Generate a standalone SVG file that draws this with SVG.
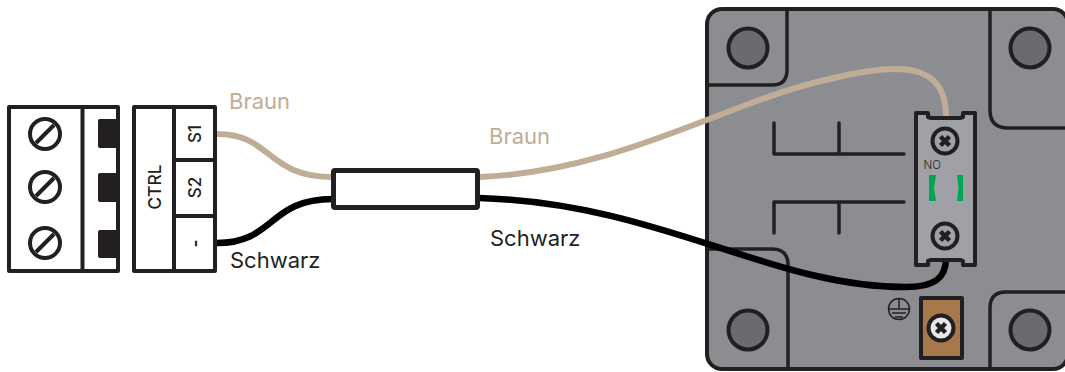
<svg xmlns="http://www.w3.org/2000/svg" width="1065" height="372" viewBox="0 0 1065 372">
<style>
text{font-family:"Inter","Liberation Sans",sans-serif;fill:#231f20}
.ln{fill:none;stroke:#231f20;stroke-width:4;stroke-linejoin:round;stroke-linecap:round}
.thin{fill:none;stroke:#231f20;stroke-width:3.500;stroke-linecap:round}
.brown{fill:none;stroke:#bfad95;stroke-width:6}
.black{fill:none;stroke:#000;stroke-width:6.500}
.bl{fill:#bfad95;font-size:22px}
.sw{font-size:22px}
.hole{fill:#6a6b6f;stroke:#231f20;stroke-width:4}
.scr{stroke:#231f20;stroke-width:4}
.x{stroke:#231f20;stroke-width:4.500;stroke-linecap:butt}
.tab{fill:#231f20}
.g{fill:#00a651}
</style>
<rect width="1065" height="372" fill="#fff"/>
<g id="housing">
<rect x="707" y="9" width="361" height="360" rx="15" fill="#8c8d91" stroke="#231f20" stroke-width="4"/>
<path class="thin" d="M787 10V70Q787 85 772 85H708"/>
<path class="thin" d="M990 10V110Q990 128 1008 128H1066"/>
<path class="thin" d="M708 249H772Q788 249 788 265V368"/>
<path class="thin" d="M990 367V308Q990 292 1006 292H1066"/>
<circle class="hole" cx="748" cy="48" r="19.500"/>
<circle class="hole" cx="1030" cy="48" r="19.500"/>
<circle class="hole" cx="748" cy="330" r="19.500"/>
<circle class="hole" cx="1030" cy="330" r="19.500"/>
<path class="thin" d="M774 154H904M774 202H904M774 154V123M839 154V123M774 202V233M839 202V233"/>
</g>
<g id="connectors">
<path class="brown" d="M217 134C272 134 266 177 333 177"/>
<path class="black" d="M217 243C275 243 268 199 333 199"/>
<path class="brown" d="M479 177C620 172 730 100 830 79C900 62 946 62 946 116"/>
<path class="black" d="M479 198C660 203 770 287 905 287C935 287 946 278 946 258"/>
</g>
<g id="terminal-left">
<rect class="ln" x="9" y="107" width="109" height="164" fill="#fff"/>
<path class="ln" d="M82.500 107V271"/>
<circle cx="45" cy="134" r="15" fill="none" class="scr"/><path class="x" style="stroke-width:4" d="M36 143L54 125"/>
<circle cx="45" cy="187" r="15" fill="none" class="scr"/><path class="x" style="stroke-width:4" d="M36 196L54 178"/>
<circle cx="45" cy="243" r="15" fill="none" class="scr"/><path class="x" style="stroke-width:4" d="M36 252L54 234"/>
<rect class="tab" x="98" y="119" width="22" height="29" rx="2"/>
<rect class="tab" x="98" y="173" width="22" height="29" rx="2"/>
<rect class="tab" x="98" y="230" width="22" height="28" rx="2"/>
</g>
<g id="terminal-ctrl">
<rect class="ln" x="134" y="107" width="81" height="164"/>
<path class="ln" d="M174 107V271M174 160H215M174 216H215"/>
<text transform="translate(161,187) rotate(-90)" text-anchor="middle" font-size="17.500" font-weight="500">CTRL</text>
<text transform="translate(201,134) rotate(-90)" text-anchor="middle" font-size="17" font-weight="500">S1</text>
<text transform="translate(201,187.500) rotate(-90)" text-anchor="middle" font-size="17" font-weight="500">S2</text>
<text transform="translate(201,243.500) rotate(-90)" text-anchor="middle" font-size="17" font-weight="700">-</text>
</g>
<g id="coupler"><rect x="333.500" y="170.500" width="144" height="37" rx="1.500" fill="#fff" stroke="#231f20" stroke-width="5" stroke-linejoin="round"/></g>
<g id="labels">
<text class="bl" x="229" y="109">Braun</text>
<text class="sw" x="230" y="268">Schwarz</text>
<text class="bl" x="489" y="144">Braun</text>
<text class="sw" x="490" y="246">Schwarz</text>
</g>
<g id="relay-terminal">
<path d="M916 113H928V117L931 118H960L963 117V113H975V265H963V261L960 260H931L928 261V265H916Z" fill="#a0a1a6" stroke="#231f20" stroke-width="4" stroke-linejoin="round"/>
<circle cx="945" cy="141" r="12.500" fill="none" class="scr"/><path class="x" d="M940.500 136.500L949.500 145.500M949.500 136.500L940.500 145.500"/>
<circle cx="945" cy="236" r="12.500" fill="none" class="scr"/><path class="x" d="M940.500 231.500L949.500 240.500M949.500 231.500L940.500 240.500"/>
<text x="923.500" y="169" font-size="11.500" font-weight="300">NO</text>
<path class="g" d="M929 175H936L934 188L936 201H929Z"/>
<path class="g" d="M963 175H957L958.500 188L957 201H963Z"/>
</g>
<g id="earth">
<rect x="921" y="298" width="41" height="60" fill="#a6784b" stroke="#231f20" stroke-width="4" stroke-linejoin="round"/>
<circle cx="941" cy="328" r="12.500" fill="#e6e7e8" class="scr"/><path class="x" d="M936.500 323.500L945.500 332.500M945.500 323.500L936.500 332.500"/>
<circle cx="899" cy="309" r="10.500" fill="none" stroke="#231f20" stroke-width="1.500"/>
<path d="M899 298V309M889 309H909M892 313H906M895 317H903" fill="none" stroke="#231f20" stroke-width="1.500"/>
</g>
</svg>
